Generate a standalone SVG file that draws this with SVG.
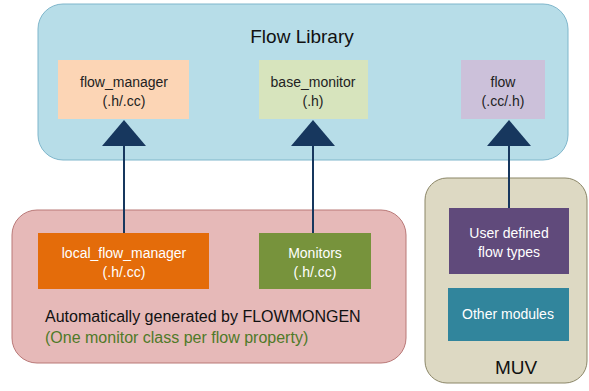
<svg xmlns="http://www.w3.org/2000/svg" width="589" height="391" viewBox="0 0 589 391">
<style>
text { font-family: "Liberation Sans", Arial, sans-serif; text-anchor: middle; }
.lbl { font-size: 14px; }
.title { font-size: 19px; fill: #111; }
.dark { fill: #222; }
.white { fill: #fff; }
.box { stroke: none; }
.conn { stroke: #17375e; stroke-width: 2; fill: none; }
.head { fill: #17375e; }
</style>
<rect width="589" height="391" fill="#fff"/>
<g id="flow-library">
  <rect x="38" y="4" width="530" height="156" rx="25" fill="#b7dde8" stroke="#7fb6cb" stroke-width="1"/>
  <text class="title" x="302" y="43">Flow Library</text>
</g>
<g id="flow_manager">
  <rect class="box" x="58" y="60" width="131" height="59" fill="#fcd5b5"/>
  <text class="lbl dark" x="124" y="87">flow_manager</text>
  <text class="lbl dark" x="124" y="106">(.h/.cc)</text>
</g>
<g id="base_monitor">
  <rect class="box" x="259" y="60" width="109" height="59" fill="#d7e4bd"/>
  <text class="lbl dark" x="313" y="87">base_monitor</text>
  <text class="lbl dark" x="313" y="106">(.h)</text>
</g>
<g id="flow">
  <rect class="box" x="461" y="60" width="84" height="59" fill="#ccc1da"/>
  <text class="lbl dark" x="503" y="87">flow</text>
  <text class="lbl dark" x="503" y="106">(.cc/.h)</text>
</g>
<g id="flowmongen">
  <rect x="12" y="210" width="394" height="153" rx="25" fill="#e6b9b8" stroke="#b97877" stroke-width="1"/>
  <text x="45" y="322" style="text-anchor:start;font-size:16px;fill:#111">Automatically generated by FLOWMONGEN</text>
  <text x="45" y="343" style="text-anchor:start;font-size:16px;fill:#4f7a28">(One monitor class per flow property)</text>
</g>
<g id="local_flow_manager">
  <rect class="box" x="38" y="233" width="171" height="56" fill="#e46c0a"/>
  <text class="lbl white" x="124" y="258">local_flow_manager</text>
  <text class="lbl white" x="124" y="277">(.h/.cc)</text>
</g>
<g id="monitors">
  <rect class="box" x="259" y="233" width="112" height="56" fill="#77933c"/>
  <text class="lbl white" x="315" y="258">Monitors</text>
  <text class="lbl white" x="315" y="277">(.h/.cc)</text>
</g>
<g id="muv">
  <rect x="425" y="178" width="162" height="205" rx="22" fill="#ddd9c3" stroke="#8b8667" stroke-width="1"/>
  <text class="title" x="516" y="374">MUV</text>
</g>
<g id="user_flow_types">
  <rect class="box" x="449" y="208" width="120" height="66" fill="#604a7b"/>
  <text class="lbl white" x="509" y="238">User defined</text>
  <text class="lbl white" x="509" y="257">flow types</text>
</g>
<g id="other_modules">
  <rect class="box" x="448" y="288" width="121" height="53" fill="#31859c"/>
  <text class="lbl white" x="508" y="319">Other modules</text>
</g>
<g id="connectors">
  <line class="conn" x1="124" y1="233" x2="124" y2="140"/>
  <polygon class="head" points="124,120 146,146 102,146"/>
  <line class="conn" x1="313" y1="233" x2="313" y2="140"/>
  <polygon class="head" points="313,120 335,146 291,146"/>
  <line class="conn" x1="509" y1="208" x2="509" y2="140"/>
  <polygon class="head" points="509,120 531,146 487,146"/>
</g>
</svg>
